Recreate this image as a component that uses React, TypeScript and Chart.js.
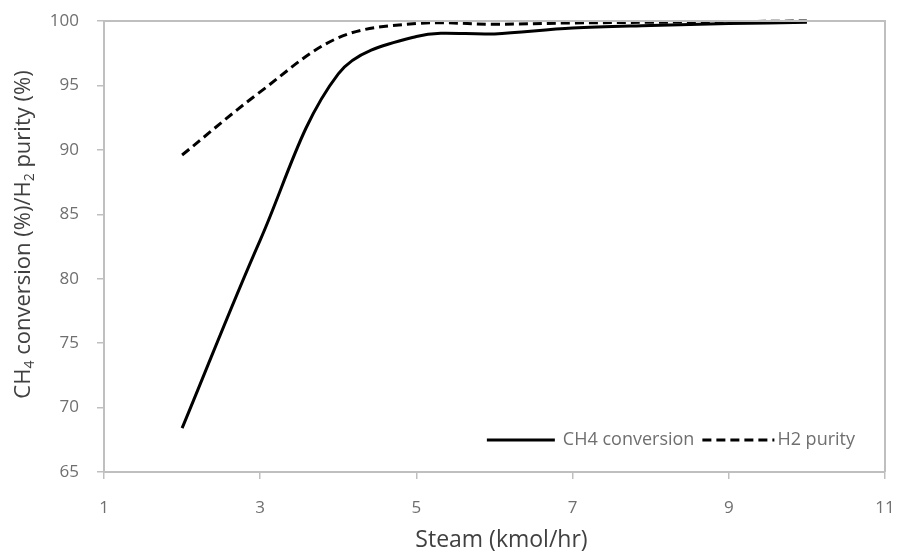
import React, { useEffect, useRef } from "react";
import { Chart, registerables } from "chart.js";

Chart.register(...registerables);

const steam = [2, 3, 4, 5, 6, 7, 8, 9, 10];
const ch4Conversion = [68.4, 83.0, 95.9, 98.8, 99.0, 99.45, 99.65, 99.8, 99.9];
const h2Purity = [89.6, 94.5, 98.7, 99.8, 99.75, 99.85, 99.9, 99.95, 100.0];
const seriesLabels = ["CH4 conversion", "H2 purity"];
const xTitle = "Steam (kmol/hr)";
const yTitleParts: [string, boolean][] = [
  ["CH", false],
  ["4", true],
  [" conversion (%)/H", false],
  ["2", true],
  [" purity (%)", false],
];

const FONT = "'Open Sans', 'DejaVu Sans', sans-serif";
const AXIS = "#bfbfbf";
const TICK_TEXT = "#6f6f6f";
const TITLE_TEXT = "#404040";

const framePlugin = {
  id: "frameAndText",
  afterDatasetsDraw(chart: any) {
    const { ctx, chartArea } = chart;
    const { left, right, top, bottom } = chartArea;
    ctx.save();
    ctx.strokeStyle = AXIS;
    ctx.lineWidth = 2;
    ctx.beginPath();
    ctx.moveTo(left, top);
    ctx.lineTo(right, top);
    ctx.lineTo(right, bottom);
    ctx.stroke();

    ctx.fillStyle = TITLE_TEXT;
    ctx.font = `23px ${FONT}`;
    ctx.textAlign = "center";
    ctx.textBaseline = "middle";
    ctx.fillText(xTitle, (left + right) / 2 + 7, 540);

    const big = `22px ${FONT}`;
    const small = `14px ${FONT}`;
    let total = 0;
    const widths: number[] = [];
    for (const [t, sub] of yTitleParts) {
      ctx.font = sub ? small : big;
      const w = ctx.measureText(t).width;
      widths.push(w);
      total += w;
    }
    ctx.translate(22, (top + bottom) / 2 - 12);
    ctx.rotate(-Math.PI / 2);
    ctx.textAlign = "left";
    ctx.textBaseline = "alphabetic";
    let cx = -total / 2;
    yTitleParts.forEach(([t, sub], i) => {
      ctx.font = sub ? small : big;
      ctx.fillText(t, cx, sub ? 12 : 8);
      cx += widths[i];
    });
    ctx.restore();

    ctx.save();
    ctx.font = `18px ${FONT}`;
    ctx.textBaseline = "middle";
    ctx.textAlign = "left";
    const y = bottom - 32;
    const sampleW = [68, 72];
    const gapAfterSample = [8, 3];
    const gapAfterText = 8;
    const tw = seriesLabels.map((l) => ctx.measureText(l).width);
    const totalW =
      sampleW[0] + gapAfterSample[0] + tw[0] + gapAfterText + sampleW[1] + gapAfterSample[1] + tw[1];
    let x = right - 30 - totalW;
    chart.data.datasets.forEach((ds: any, i: number) => {
      ctx.strokeStyle = "#000";
      ctx.lineWidth = 3;
      ctx.setLineDash(ds.borderDash || []);
      ctx.beginPath();
      ctx.moveTo(x, y);
      ctx.lineTo(x + sampleW[i], y);
      ctx.stroke();
      ctx.setLineDash([]);
      x += sampleW[i] + gapAfterSample[i];
      ctx.fillStyle = TICK_TEXT;
      ctx.fillText(seriesLabels[i], x, y);
      x += tw[i] + gapAfterText;
    });
    ctx.restore();
  },
};

export default function App() {
  const ref = useRef<HTMLCanvasElement | null>(null);
  useEffect(() => {
    if (!ref.current) return;
    const chart = new Chart(ref.current, {
      type: "line",
      data: {
        datasets: [
          {
            label: seriesLabels[0],
            data: steam.map((s, i) => ({ x: s, y: ch4Conversion[i] })),
            borderColor: "#000",
            borderWidth: 3,
            pointRadius: 0,
            tension: 0.35,
            fill: false,
            clip: 4,
          },
          {
            label: seriesLabels[1],
            data: steam.map((s, i) => ({ x: s, y: h2Purity[i] })),
            borderColor: "#000",
            borderWidth: 3,
            borderDash: [9, 5],
            pointRadius: 0,
            tension: 0.35,
            fill: false,
            clip: 4,
          },
        ],
      },
      options: {
        responsive: false,
        animation: false,
        layout: { padding: { left: 0, top: 21, right: 15, bottom: 0 } },
        plugins: { legend: { display: false }, tooltip: { enabled: false } },
        scales: {
          x: {
            type: "linear",
            min: 1,
            max: 11,
            ticks: { stepSize: 2, color: TICK_TEXT, font: { size: 17, family: FONT }, padding: 19 },
            grid: { drawOnChartArea: false, drawTicks: true, tickLength: 7, color: AXIS, lineWidth: 1.5 },
            border: { color: AXIS, width: 2 },
            afterFit: (s: any) => {
              s.height = 81;
              s.paddingLeft = 0;
              s.paddingRight = 0;
            },
          },
          y: {
            min: 65,
            max: 100,
            ticks: { stepSize: 5, color: TICK_TEXT, font: { size: 17, family: FONT }, padding: 18 },
            grid: { drawOnChartArea: false, drawTicks: true, tickLength: 7, color: AXIS, lineWidth: 1.5 },
            border: { color: AXIS, width: 2 },
            afterFit: (s: any) => {
              s.width = 104;
              s.paddingTop = 0;
              s.paddingBottom = 0;
            },
          },
        },
      },
      plugins: [framePlugin],
    });
    return () => chart.destroy();
  }, []);
  return (
    <div style={{ position: "fixed", left: 0, top: 0, width: 900, height: 553, background: "#fff" }}>
      <canvas ref={ref} width={900} height={553} style={{ display: "block" }} />
    </div>
  );
}
